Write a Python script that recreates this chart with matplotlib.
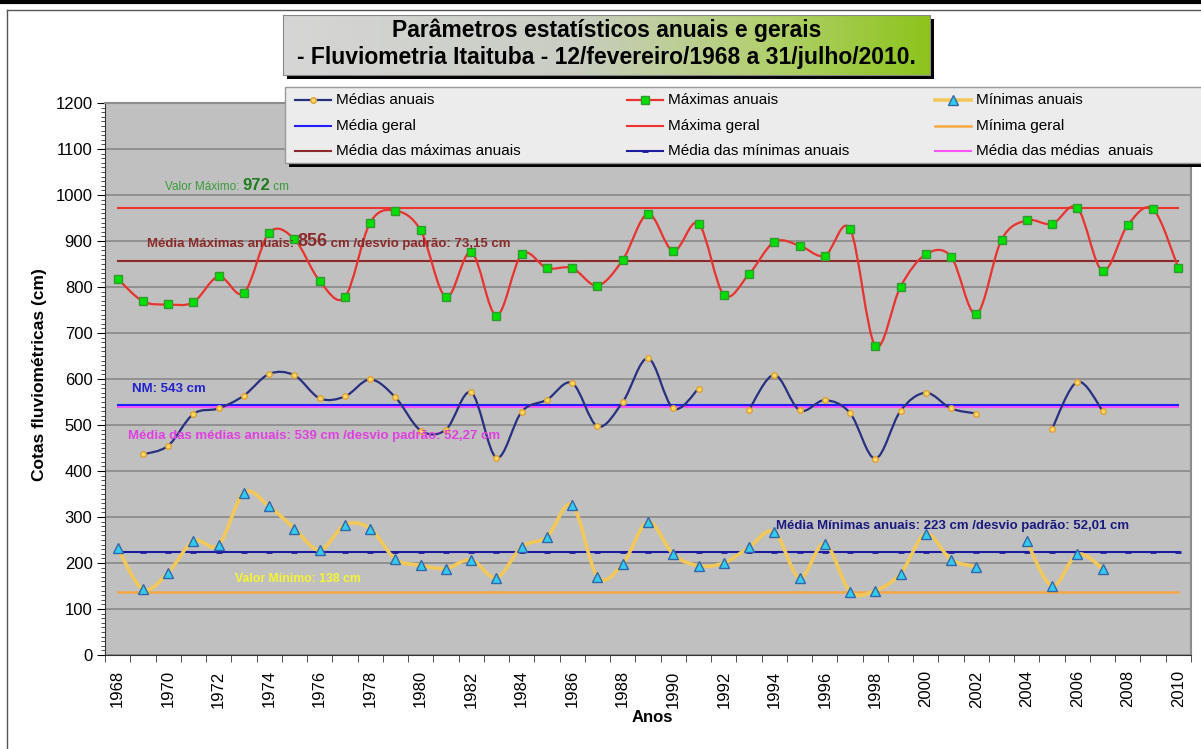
import numpy as np
import matplotlib
matplotlib.use("Agg")
import matplotlib.pyplot as plt
from matplotlib.path import Path
from matplotlib.patches import PathPatch, Rectangle
from matplotlib.lines import Line2D
from matplotlib.colors import LinearSegmentedColormap

plt.rcParams['font.family'] = ['Liberation Sans', 'DejaVu Sans']

W, H = 1201, 749

years = np.arange(1968, 2011)

# cotas anuais (cm); None = ano sem valor
medias_anuais = [None, 436, 455, 524, 536, 564, 611, 608, 558, 562,
                 599, 560, 488, 490, 571, 429, 529, 555, 591, 497,
                 550, 645, 536, 579, None, 533, 609, 532, 554, 526,
                 427, 531, 570, 536, 525, None, None, 492, 594, 531,
                 None, None, None]
maximas_anuais = [818, 769, 762, 767, 823, 787, 918, 904, 813, 778,
                  940, 966, 923, 778, 876, 738, 871, 841, 841, 803,
                  859, 959, 878, 938, 783, 828, 898, 890, 868, 926,
                  672, 801, 871, 866, 741, 903, 945, 937, 972, 835,
                  935, 969, 841]
minimas_anuais = [233, 143, 179, 248, 239, 353, 323, 275, 228, 283,
                  275, 208, 195, 188, 207, 168, 235, 257, 326, 170,
                  198, 289, 219, 194, 200, 234, 268, 168, 242, 138,
                  140, 177, 263, 207, 192, None, 247, 150, 219, 188,
                  None, None, None]

media_geral = 543
maxima_geral = 972
minima_geral = 138
media_maximas = 856
media_minimas = 223
media_medias = 539


def fx(px):
    return px / W


def fy(py):
    return 1 - py / H


def smooth_path(xs, ys):
    # curva suavizada (bezier tipo catmull-rom) passando pelos pontos
    n = len(xs)
    verts = [(xs[0], ys[0])]
    codes = [Path.MOVETO]
    for i in range(n - 1):
        p0 = (xs[i - 1], ys[i - 1]) if i > 0 else (xs[i], ys[i])
        p1 = (xs[i], ys[i])
        p2 = (xs[i + 1], ys[i + 1])
        p3 = (xs[i + 2], ys[i + 2]) if i + 2 < n else p2
        c1 = (p1[0] + (p2[0] - p0[0]) / 6, p1[1] + (p2[1] - p0[1]) / 6)
        c2 = (p2[0] - (p3[0] - p1[0]) / 6, p2[1] - (p3[1] - p1[1]) / 6)
        verts += [c1, c2, p2]
        codes += [Path.CURVE4] * 3
    return Path(verts, codes)


def plot_smooth(ax, x, values, color, lw, z):
    y = np.array(values, dtype=float)
    ok = ~np.isnan(y)
    start = None
    for i in range(len(y) + 1):
        if i < len(y) and ok[i]:
            if start is None:
                start = i
        elif start is not None:
            if i - start > 1:
                ax.add_patch(PathPatch(smooth_path(x[start:i], y[start:i]), fill=False,
                                       edgecolor=color, lw=lw, zorder=z, capstyle='round'))
            start = None


fig = plt.figure(figsize=(W / 100, H / 100), dpi=100)
fig.patch.set_facecolor('white')

# moldura
fig.add_artist(Line2D([0, 1], [fy(2), fy(2)], color='black', lw=3))
fig.add_artist(Line2D([fx(7), fx(7)], [0, fy(10)], color='#555555', lw=1))
fig.add_artist(Line2D([fx(7), 1], [fy(10), fy(10)], color='#555555', lw=1))

ax = fig.add_axes([fx(105), fy(655), (1191 - 105) / W, (655 - 103) / H])
ax.set_facecolor('#C0C0C0')

# linhas de referência
n = len(years)
ax.plot(years, np.full(n, media_medias), color='#FF55FF', lw=1.5, zorder=2)
ax.plot(years, np.full(n, media_geral), color='#2020FF', lw=1.5, zorder=2)
ax.plot(years, np.full(n, maxima_geral), color='#EE3333', lw=1.5, zorder=2)
ax.plot(years, np.full(n, minima_geral), color='#F4A742', lw=1.8, zorder=2)
ax.plot(years, np.full(n, media_maximas), color='#8B2A2A', lw=1.5, zorder=2)
ax.plot(years, np.full(n, media_minimas), color='#1C1CA0', lw=1.5, zorder=2,
        marker='_', ms=5, mew=2)

# séries anuais
plot_smooth(ax, years, minimas_anuais, '#F2C85B', 2.6, 3)
plot_smooth(ax, years, maximas_anuais, '#E8332F', 1.6, 3)
plot_smooth(ax, years, medias_anuais, '#283080', 1.6, 3)
ax.plot(years, np.array(minimas_anuais, dtype=float), ls='none', marker='^', ms=6.5,
        mfc='#33CCEE', mec='#3366AA', zorder=4)
ax.plot(years, maximas_anuais, ls='none', marker='s', ms=6,
        mfc='#00E000', mec='#339933', zorder=4)
ax.plot(years, np.array(medias_anuais, dtype=float), ls='none', marker='o', ms=4,
        mfc='#FFD966', mec='#E0A030', zorder=4)

ax.set_xlim(1967.5, 2010.5)
ax.set_ylim(0, 1200)
ax.set_yticks(np.arange(0, 1201, 100))
ax.set_yticks(np.arange(0, 1201, 10), minor=True)
ax.set_xticks(years[::2])
ax.set_xticklabels([str(y) for y in years[::2]], rotation=90)
ax.set_xticks(np.arange(1967.5, 2011, 1), minor=True)
ax.tick_params(axis='x', which='major', length=0, pad=11, labelsize=12)
ax.tick_params(axis='x', which='minor', length=5, direction='out', color='#333333')
ax.tick_params(axis='y', which='major', length=6, direction='out', pad=3, labelsize=12)
ax.tick_params(axis='y', which='minor', length=3, direction='out', color='#333333')
ax.yaxis.grid(True, which='major', color='#8C8C8C', lw=1.3, zorder=1)
ax.set_axisbelow(True)
for s in ['top', 'right']:
    ax.spines[s].set_color('#8C8C8C')
    ax.spines[s].set_linewidth(1.5)
for s in ['left', 'bottom']:
    ax.spines[s].set_color('#333333')

fig.text(fx(40), fy(375), 'Cotas fluviométricas (cm)', rotation=90, ha='center', va='center',
         fontsize=12.5, fontweight='bold')
fig.text(fx(652), fy(718), 'Anos', ha='center', va='center', fontsize=12, fontweight='bold')


def chain_text(ax, x, y, parts):
    # partes de texto com estilos diferentes, encadeadas na mesma linha
    text, kw = parts[0]
    t = ax.text(x, y, text, va='bottom', ha='left', zorder=5, **kw)
    for text, kw in parts[1:]:
        t = ax.annotate(text, xy=(1, 0), xycoords=t, va='bottom', ha='left', zorder=5, **kw)
    return t


chain_text(ax, 1969.86, 1005, [('Valor Máximo: ', dict(color='#3C9A3C', fontsize=8.5)),
                               ('972', dict(color='#1E7B1E', fontsize=12, fontweight='bold')),
                               (' cm', dict(color='#3C9A3C', fontsize=8.5))])
chain_text(ax, 1969.15, 880, [('Média Máximas anuais: ', dict(color='#8B2A2A', fontsize=9.5, fontweight='bold')),
                              ('856', dict(color='#8B2A2A', fontsize=13, fontweight='bold')),
                              (' cm /desvio padrão: 73,15 cm', dict(color='#8B2A2A', fontsize=9.5, fontweight='bold'))])
ax.text(1968.55, 566, 'NM: 543 cm', color='#2222CC', fontsize=9.5, fontweight='bold', va='bottom', zorder=5)
ax.text(1968.4, 462, 'Média das médias anuais: 539 cm /desvio padrão: 52,27 cm', color='#E040E0',
        fontsize=9.5, fontweight='bold', va='bottom', zorder=5)
ax.text(1994.07, 267, 'Média Mínimas anuais: 223 cm /desvio padrão: 52,01 cm', color='#1A1A80',
        fontsize=9.5, fontweight='bold', va='bottom', zorder=5)
ax.text(1972.64, 152, 'Valor Mínimo: 138 cm', color='#F5F530', fontsize=8.8, fontweight='bold',
        va='bottom', zorder=5)

# caixa do título
shadow = Rectangle((fx(287), fy(79)), (930 - 283) / W, 60 / H, transform=fig.transFigure,
                   facecolor='black', edgecolor='none', zorder=-1)
fig.add_artist(shadow)
tb = fig.add_axes([fx(283), fy(75), (930 - 283) / W, 60 / H])
cmap = LinearSegmentedColormap.from_list('tit', [(0, '#d6d6d6'), (0.45, '#c9cdc2'),
                                                 (0.75, '#b2d06e'), (1, '#8cc41c')])
tb.imshow(np.linspace(0, 1, 256).reshape(1, -1), aspect='auto', cmap=cmap, extent=[0, 1, 0, 1])
tb.set_xticks([])
tb.set_yticks([])
for s in tb.spines.values():
    s.set_color('#888888')
tb.text(0.5, 0.74, 'Parâmetros estatísticos anuais e gerais', ha='center', va='center',
        fontsize=16.5, fontweight='bold')
tb.text(0.5, 0.29, '- Fluviometria Itaituba - 12/fevereiro/1968 a 31/julho/2010.', ha='center',
        va='center', fontsize=16.5, fontweight='bold')

# legenda
fig.add_artist(Rectangle((fx(289), fy(167)), (1230 - 285) / W, 76 / H, transform=fig.transFigure,
                         facecolor='black', edgecolor='none', zorder=5))
fig.add_artist(Rectangle((fx(285), fy(163)), (1230 - 285) / W, 76 / H, transform=fig.transFigure,
                         facecolor='#ECECEC', edgecolor='#999999', lw=1, zorder=6))

entries = [
    ('Médias anuais', dict(color='#283080', lw=1.6, marker='o', ms=4, mfc='#FFD966', mec='#E0A030')),
    ('Máximas anuais', dict(color='#E8332F', lw=1.6, marker='s', ms=6, mfc='#00E000', mec='#339933')),
    ('Mínimas anuais', dict(color='#F2C85B', lw=2.6, marker='^', ms=6.5, mfc='#33CCEE', mec='#3366AA')),
    ('Média geral', dict(color='#2020FF', lw=1.5)),
    ('Máxima geral', dict(color='#EE3333', lw=1.5)),
    ('Mínima geral', dict(color='#F4A742', lw=1.8)),
    ('Média das máximas anuais', dict(color='#8B2A2A', lw=1.5)),
    ('Média das mínimas anuais', dict(color='#1C1CA0', lw=1.5, marker='_', ms=5, mew=2)),
    ('Média das médias  anuais', dict(color='#FF55FF', lw=1.5)),
]
col_x = [295, 627, 935]
row_y = [100, 126, 151]
for k, (label, style) in enumerate(entries):
    r, c = divmod(k, 3)
    x0, y0 = col_x[c], row_y[r]
    fig.add_artist(Line2D([fx(x0), fx(x0 + 36)], [fy(y0), fy(y0)], transform=fig.transFigure,
                          zorder=7, markevery=[], **style))
    if 'marker' in style:
        mk = {key: v for key, v in style.items() if key not in ('lw', 'color')}
        fig.add_artist(Line2D([fx(x0 + 18)], [fy(y0)], transform=fig.transFigure, ls='none',
                              zorder=8, color=style['color'], **mk))
    fig.text(fx(x0 + 41), fy(y0), label, ha='left', va='center', fontsize=11, zorder=8)

fig.savefig('out.png', dpi=100, facecolor='white')
